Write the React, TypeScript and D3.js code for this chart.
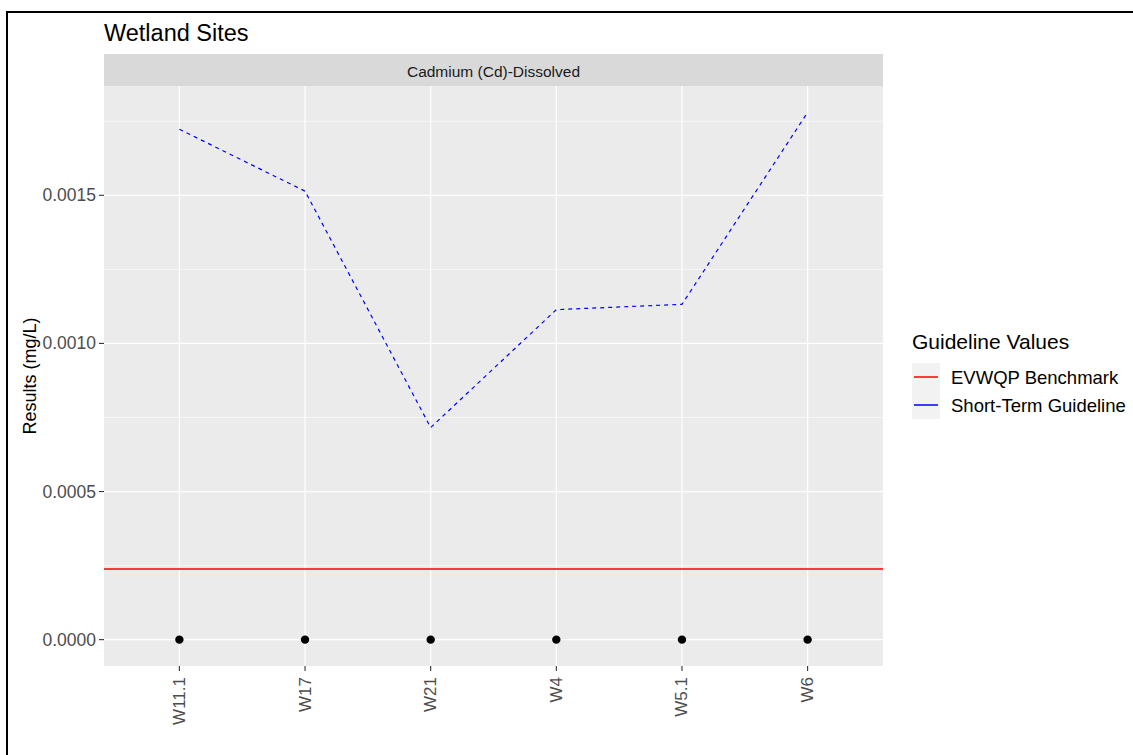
import React from "react";
import * as d3 from "d3";

const sites = ["W11.1", "W17", "W21", "W4", "W5.1", "W6"];
const results = [0, 0, 0, 0, 0, 0];
const shortTerm = [0.001723, 0.001514, 0.000716, 0.001114, 0.001132, 0.00178];
const benchmark = 0.000237;
const yTicks = [0, 0.0005, 0.001, 0.0015];
const yMinor = [0.00025, 0.00075, 0.00125, 0.00175];
const legendItems = [
  { label: "EVWQP Benchmark", color: "#FF0000" },
  { label: "Short-Term Guideline", color: "#0000FF" },
];

const W = 1133;
const H = 755;
const panel = { left: 104, right: 883, top: 86, bottom: 666 };
const font = "'Liberation Sans', Arial, sans-serif";

export default function App() {
  const x = d3
    .scalePoint<string>()
    .domain(sites)
    .range([panel.left, panel.right])
    .padding(0.6);
  const maxV = d3.max(shortTerm.concat(results, [benchmark])) as number;
  const minV = 0;
  const span = maxV - minV;
  const y = d3
    .scaleLinear()
    .domain([minV - span * 0.05, maxV + span * 0.05])
    .range([panel.bottom, panel.top]);

  const line = d3
    .line<number>()
    .x((_, i) => x(sites[i]) as number)
    .y((d) => y(d));

  const yb = Math.round(y(benchmark));

  return (
    <svg
      width={W}
      height={H}
      style={{ position: "absolute", left: 0, top: 0, background: "#fff" }}
      fontFamily={font}
    >
      <rect x={0} y={0} width={W} height={H} fill="#fff" />
      {/* frame */}
      <rect x={7} y={12} width={W + 20} height={H + 20} fill="none" stroke="#000" strokeWidth={2} />

      {/* title */}
      <text x={104} y={41} fontSize={23.5} fill="#000">
        Wetland Sites
      </text>

      {/* strip */}
      <rect x={panel.left} y={54} width={panel.right - panel.left} height={panel.top - 54} fill="#D9D9D9" />
      <text
        x={(panel.left + panel.right) / 2}
        y={71}
        fontSize={15.5}
        fill="#1A1A1A"
        textAnchor="middle"
        dominantBaseline="central"
      >
        Cadmium (Cd)-Dissolved
      </text>

      {/* panel */}
      <rect
        x={panel.left}
        y={panel.top}
        width={panel.right - panel.left}
        height={panel.bottom - panel.top}
        fill="#EBEBEB"
      />
      {yMinor.map((t) => (
        <line key={"m" + t} x1={panel.left} x2={panel.right} y1={y(t)} y2={y(t)} stroke="#fff" strokeWidth={0.6} />
      ))}
      {yTicks.map((t) => (
        <line key={"M" + t} x1={panel.left} x2={panel.right} y1={y(t)} y2={y(t)} stroke="#fff" strokeWidth={1.2} />
      ))}
      {sites.map((s) => (
        <line key={"g" + s} x1={x(s)} x2={x(s)} y1={panel.top} y2={panel.bottom} stroke="#fff" strokeWidth={1.2} />
      ))}

      {/* benchmark */}
      <rect x={panel.left} y={yb - 0.75} width={panel.right - panel.left} height={1.5} fill="#FF0000" />
      {/* short-term guideline */}
      <path d={line(shortTerm) || ""} fill="none" stroke="#0000FF" strokeWidth={1.2} strokeDasharray="4,4" />

      {/* points */}
      {results.map((v, i) => (
        <circle key={"p" + i} cx={x(sites[i])} cy={y(v)} r={4.2} fill="#000" />
      ))}

      {/* y axis */}
      {yTicks.map((t) => (
        <g key={"yt" + t}>
          <line x1={panel.left - 5} x2={panel.left} y1={y(t)} y2={y(t)} stroke="#333" strokeWidth={1.1} />
          <text
            x={panel.left - 8}
            y={y(t)}
            fontSize={17.5}
            fill="#4D4D4D"
            textAnchor="end"
            dominantBaseline="central"
          >
            {d3.format(".4f")(t)}
          </text>
        </g>
      ))}
      <text
        transform={`translate(30,${(panel.top + panel.bottom) / 2}) rotate(-90)`}
        fontSize={18}
        fill="#000"
        textAnchor="middle"
        dominantBaseline="central"
      >
        Results (mg/L)
      </text>

      {/* x axis */}
      {sites.map((s) => (
        <g key={"xt" + s}>
          <line x1={x(s)} x2={x(s)} y1={panel.bottom} y2={panel.bottom + 5} stroke="#333" strokeWidth={1.1} />
          <text
            transform={`translate(${x(s)},${panel.bottom + 11}) rotate(-90)`}
            fontSize={17}
            fill="#4D4D4D"
            textAnchor="end"
            dominantBaseline="central"
          >
            {s}
          </text>
        </g>
      ))}

      {/* legend */}
      <text x={912} y={349} fontSize={21} fill="#000">
        Guideline Values
      </text>
      {legendItems.map((it, i) => {
        const top = 363 + i * 28;
        return (
          <g key={it.label}>
            <rect x={912} y={top} width={28} height={28} fill="#F2F2F2" />
            <rect x={914} y={top + 13.25} width={24} height={1.5} fill={it.color} />
            <text x={951} y={top + 14} fontSize={18.5} fill="#000" dominantBaseline="central">
              {it.label}
            </text>
          </g>
        );
      })}
    </svg>
  );
}
